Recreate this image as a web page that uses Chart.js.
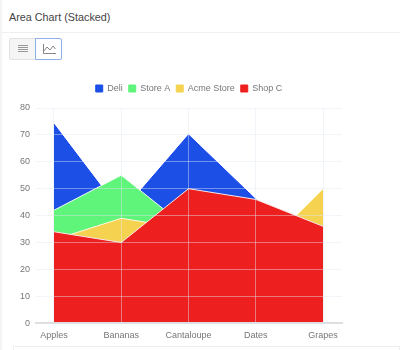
<!DOCTYPE html>
<html>
<head>
<meta charset="utf-8">
<script src="https://cdn.jsdelivr.net/npm/chart.js@4/dist/chart.umd.min.js"></script>
<style>
body { margin: 0; width: 400px; height: 350px; background: #fff; overflow: hidden; font-family: "Liberation Sans", sans-serif; position: relative; }
#side { position: absolute; left: 0; top: 0; width: 2px; height: 350px; background: #f3f4f6; }
#title { position: absolute; left: 9px; top: 9px; font-size: 10.8px; color: #444; line-height: 16px; }
#rule { position: absolute; left: 2px; right: 0; top: 32px; height: 1px; background: #efefef; }
#btn1, #btn2 { position: absolute; top: 38px; height: 22px; box-sizing: border-box; }
#btn1 { left: 9px; width: 27px; background: #f5f5f5; border: 1px solid #e2e2e2; border-radius: 2px 0 0 2px; }
#btn2 { left: 35px; width: 27px; background: #fff; border: 1px solid #8fb0e8; border-radius: 0 2px 2px 0; }
#btn1 svg, #btn2 svg { position: absolute; left: 7px; top: 5px; }
#box { position: absolute; left: 13px; right: 0; top: 346px; height: 10px; border: 1px solid #eee; }
#wrap { position: absolute; left: 0; top: 78px; width: 400px; height: 270px; }
</style>
</head>
<body>
<div id="side"></div>
<div id="title">Area Chart (Stacked)</div>
<div id="rule"></div>
<div id="btn1"><svg width="12" height="10"><path d="M1 1.5H11M1 3.5H11M1 5.5H11M1 7.5H11" stroke="#999" fill="none"/></svg></div>
<div id="btn2"><svg width="13" height="11"><path d="M.5 0V9.5H13M1 7L4 3L7 6L10 2L12.500 5" stroke="#888" fill="none"/></svg></div>
<div id="wrap"><canvas id="myChart"></canvas></div>
<div id="box"></div>
<script>
const categories = ['Apples', 'Bananas', 'Cantaloupe', 'Dates', 'Grapes'];
const deli = [74, 41, 70, 46, 30];
const storeA = [42, 55, 35, 30, 25];
const acme = [31, 39, 35, 25, 50];
const shopC = [34, 30, 50, 46, 36];

function points(values) {
    return values.map(function(v, i) { return { x: i, y: v }; });
}

const data = {
    datasets: [
        { label: 'Deli', data: points(deli), order: 4, backgroundColor: '#1b4fe6', borderColor: '#1040f0' },
        { label: 'Store A', data: points(storeA), order: 3, backgroundColor: '#5ff47a', borderColor: '#f4fff6' },
        { label: 'Acme Store', data: points(acme), order: 2, backgroundColor: '#f5d350', borderColor: '#fff8e0' },
        { label: 'Shop C', data: points(shopC), order: 1, backgroundColor: '#ee1f1f', borderColor: '#f8e8e8' }
    ]
};
data.datasets.forEach(function(d) {
    d.fill = 'origin';
    d.borderWidth = 1;
    d.pointRadius = 0;
    d.tension = 0;
});

// legend needs more room below it, and is centred over the plot
const legendTweak = {
    id: 'legendTweak',
    beforeInit: function(chart) {
        const fit = chart.legend.fit;
        chart.legend.fit = function() {
            fit.call(this);
            this.height += 5;
        };
    },
    afterLayout: function(chart) {
        chart.legend.left = chart.chartArea.left;
        chart.legend.right = chart.chartArea.right;
    }
};

const config = {
    type: 'line',
    data,
    plugins: [legendTweak],
    options: {
        responsive: false,
        animation: false,
        layout: { padding: { left: 14, right: 58 } },
        plugins: {
            legend: {
                labels: {
                    boxWidth: 7,
                    boxHeight: 7,
                    color: '#777',
                    font: { family: 'Liberation Sans', size: 9 },
                    padding: 6,
                    sort: function(a, b) { return a.datasetIndex - b.datasetIndex; },
                    generateLabels: function(chart) {
                        const items = Chart.defaults.plugins.legend.labels.generateLabels(chart);
                        items.forEach(function(it) { it.strokeStyle = it.fillStyle; });
                        return items;
                    }
                }
            },
            tooltip: { enabled: false }
        },
        scales: {
            x: {
                type: 'linear',
                min: -0.267,
                max: 4.281,
                grid: { color: 'rgba(225,230,240,0.45)', z: 1, drawTicks: false },
                border: { color: '#ddd', width: 2, z: 1 },
                ticks: {
                    stepSize: 1,
                    includeBounds: false,
                    padding: 7,
                    color: '#777',
                    font: { family: 'Liberation Sans', size: 9 },
                    maxRotation: 0,
                    callback: function(v) { return categories[v]; }
                }
            },
            y: {
                min: 0,
                max: 80,
                grid: { color: 'rgba(225,230,240,0.45)', z: 1, drawTicks: false },
                border: { display: false },
                ticks: { stepSize: 10, padding: 6, color: '#777', font: { family: 'Liberation Sans', size: 9 } }
            }
        }
    }
};
const canvas = document.getElementById('myChart');
canvas.width = 400;
canvas.height = 270;
new Chart(canvas, config);
</script>
</body>
</html>
